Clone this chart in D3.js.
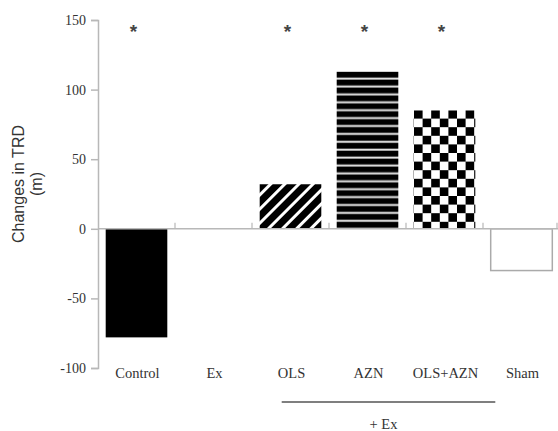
<!DOCTYPE html>
<html><head><meta charset="utf-8">
<script src="https://cdn.jsdelivr.net/npm/d3@7"></script>
<style>body{margin:0;background:#fff}</style>
</head><body>
<script>
const categories = ["Control","Ex","OLS","AZN","OLS+AZN","Sham"];
const values = [-78, 0, 32, 113, 85, -30];
const fills = ["solid","none","diag","horiz","check","outline"];
const starred = ["Control","OLS","AZN","OLS+AZN"];
const yTicks = [150,100,50,0,-50,-100];
const groupLabel = "+ Ex";
const groupMembers = ["OLS","OLS+AZN"];

const W=558,H=431;
const svg=d3.select("body").append("svg").attr("width",W).attr("height",H);
const defs=svg.append("defs");
// diagonal
const pd=defs.append("pattern").attr("id","diag").attr("patternUnits","userSpaceOnUse")
 .attr("width",10).attr("height",10).attr("patternTransform","rotate(45)");
pd.append("rect").attr("width",10).attr("height",10).attr("fill","#000");
pd.append("rect").attr("x",0).attr("width",3).attr("height",10).attr("fill","#fff");
// horizontal
const ph=defs.append("pattern").attr("id","horiz").attr("patternUnits","userSpaceOnUse")
 .attr("width",8).attr("height",7.9).attr("y",72);
ph.append("rect").attr("width",8).attr("height",7.9).attr("fill","#000");
ph.append("rect").attr("y",5.6).attr("width",8).attr("height",2).attr("fill","#e8e8e8");
// checker
const s=8.6;
const pc=defs.append("pattern").attr("id","check").attr("patternUnits","userSpaceOnUse")
 .attr("width",2*s).attr("height",2*s).attr("x",414).attr("y",110);
pc.append("rect").attr("width",2*s).attr("height",2*s).attr("fill","#000");
pc.append("rect").attr("x",s).attr("width",s).attr("height",s).attr("fill","#fff");
pc.append("rect").attr("y",s).attr("width",s).attr("height",s).attr("fill","#fff");

const x=d3.scaleBand().domain(categories).range([98,560]).paddingInner(0.2).paddingOuter(0.1);
const y=d3.scaleLinear().domain([-100,150]).range([368,20]);
const axisCol="#b8b8b8";

// y axis
const ya=svg.append("g").attr("transform","translate(98,0)")
 .call(d3.axisLeft(y).tickValues(yTicks).tickSize(7).tickPadding(5).tickFormat(d=>d<0?"-"+Math.abs(d):d));
ya.select(".domain").attr("stroke",axisCol).attr("stroke-width",1.5);
ya.selectAll(".tick line").attr("stroke",axisCol).attr("stroke-width",1.5);
ya.selectAll("text").attr("font-family","Liberation Serif, Times New Roman, serif").attr("font-size",14).attr("fill","#333");

// bars
svg.selectAll("rect.bar").data(categories).enter().append("rect")
 .attr("x",d=>x(d)).attr("width",x.bandwidth())
 .attr("y",(d,i)=>y(Math.max(0,values[i])))
 .attr("height",(d,i)=>Math.abs(y(values[i])-y(0)))
 .attr("fill",(d,i)=>fills[i]==="solid"?"#000":fills[i]==="outline"||fills[i]==="none"?"#fff":"url(#"+fills[i]+")")
 .attr("stroke",(d,i)=>fills[i]==="outline"?"#aaa":"none")
 .attr("stroke-width",1.5);

// zero line
const bounds=d3.range(1,categories.length+1).map(i=>98+i*x.step());
svg.append("line").attr("x1",98).attr("x2",558).attr("y1",y(0)).attr("y2",y(0)).attr("stroke",axisCol).attr("stroke-width",1.5);
svg.selectAll("line.bt").data(bounds).enter().append("line")
 .attr("x1",d=>Math.min(d,557)).attr("x2",d=>Math.min(d,557)).attr("y1",y(0)-6).attr("y2",y(0)).attr("stroke",axisCol).attr("stroke-width",1.2);

// category labels
svg.selectAll("text.cat").data(categories).enter().append("text")
 .attr("x",d=>x(d)+x.bandwidth()/2+1).attr("y",378)
 .attr("text-anchor","middle").attr("font-family","Liberation Serif, Times New Roman, serif")
 .attr("font-size",14.5).attr("fill","#333").text(d=>d);

// asterisks
svg.selectAll("text.star").data(starred).enter().append("text")
 .attr("x",d=>x(d)+x.bandwidth()/2-3).attr("y",38)
 .attr("text-anchor","middle").attr("font-family","Liberation Sans, Arial, sans-serif")
 .attr("font-size",19).attr("font-weight","bold").attr("fill","#444").text("*");

// group line
const gx1=x(groupMembers[0])+22, gx2=x(groupMembers[1])+x.bandwidth()+20;
svg.append("line").attr("x1",gx1).attr("x2",gx2).attr("y1",402).attr("y2",402).attr("stroke","#555").attr("stroke-width",1.5);
svg.append("text").attr("x",(gx1+gx2)/2-5).attr("y",429).attr("text-anchor","middle")
 .attr("font-family","Liberation Serif, Times New Roman, serif").attr("font-size",14.5).attr("fill","#333").text(groupLabel);

// y label
const yl=svg.append("text").attr("transform","translate(24,184) rotate(-90)").attr("text-anchor","middle")
 .attr("font-family","Liberation Sans, Arial, sans-serif").attr("font-size",16).attr("fill","#333");
yl.append("tspan").attr("x",0).attr("dy",0).text("Changes in TRD");
yl.append("tspan").attr("x",0).attr("dy",18).text("(m)");
</script>
</body></html>
